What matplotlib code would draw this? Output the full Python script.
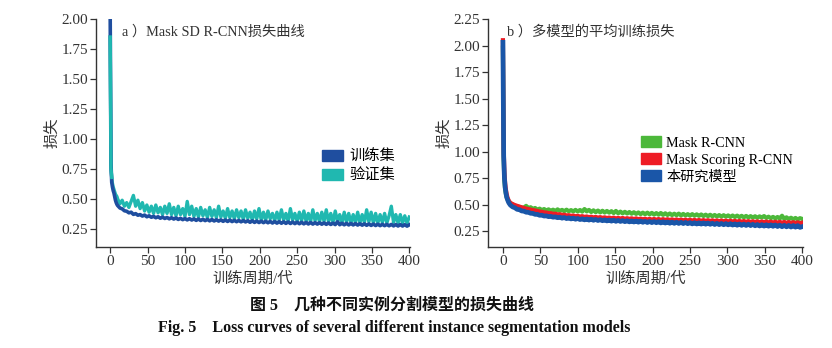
import numpy as np
import matplotlib.pyplot as plt
from matplotlib.patches import Patch

plt.rcParams['font.family'] = ['Liberation Serif', 'Noto Sans CJK SC']
plt.rcParams['axes.unicode_minus'] = False

# epochs: every epoch for the first 10, then every 3rd
epochs = np.r_[0:10, 10:401:3]

# a) Mask SD R-CNN
train_a = [2.00, 0.80, 0.64, 0.60, 0.57, 0.55, 0.52, 0.49, 0.47, 0.455,
           0.445, 0.425, 0.418, 0.402, 0.398, 0.385, 0.390, 0.372, 0.378, 0.365,
           0.370, 0.358, 0.366, 0.352, 0.360, 0.348, 0.355, 0.344, 0.352, 0.340,
           0.349, 0.338, 0.346, 0.335, 0.344, 0.333, 0.342, 0.330, 0.339, 0.328,
           0.337, 0.326, 0.336, 0.325, 0.334, 0.322, 0.333, 0.321, 0.331, 0.320,
           0.330, 0.318, 0.329, 0.317, 0.327, 0.316, 0.326, 0.314, 0.325, 0.313,
           0.324, 0.312, 0.322, 0.311, 0.321, 0.310, 0.320, 0.309, 0.319, 0.306,
           0.318, 0.305, 0.316, 0.304, 0.315, 0.303, 0.314, 0.302, 0.313, 0.300,
           0.312, 0.299, 0.311, 0.298, 0.310, 0.297, 0.309, 0.296, 0.308, 0.295,
           0.307, 0.294, 0.306, 0.293, 0.305, 0.292, 0.304, 0.291, 0.303, 0.291,
           0.302, 0.290, 0.301, 0.289, 0.300, 0.288, 0.299, 0.287, 0.310, 0.286,
           0.298, 0.285, 0.297, 0.284, 0.296, 0.284, 0.295, 0.283, 0.294, 0.282,
           0.293, 0.281, 0.292, 0.280, 0.291, 0.279, 0.290, 0.278, 0.289, 0.278,
           0.288, 0.277, 0.288, 0.276, 0.287, 0.275, 0.287, 0.275, 0.286, 0.274,
           0.285]
val_a = [1.85, 0.76, 0.68, 0.63, 0.60, 0.58, 0.56, 0.54, 0.53, 0.52,
         0.50, 0.46, 0.49, 0.44, 0.47, 0.43, 0.48, 0.53, 0.44, 0.49,
         0.42, 0.47, 0.40, 0.45, 0.39, 0.44, 0.38, 0.45, 0.385, 0.43,
         0.37, 0.44, 0.38, 0.46, 0.37, 0.43, 0.36, 0.44, 0.37, 0.42,
         0.355, 0.48, 0.37, 0.44, 0.355, 0.42, 0.35, 0.43, 0.36, 0.41,
         0.345, 0.43, 0.355, 0.41, 0.345, 0.44, 0.35, 0.40, 0.34, 0.42,
         0.345, 0.40, 0.335, 0.41, 0.345, 0.40, 0.33, 0.41, 0.34, 0.39,
         0.325, 0.40, 0.335, 0.42, 0.325, 0.39, 0.325, 0.40, 0.335, 0.38,
         0.32, 0.39, 0.325, 0.41, 0.325, 0.38, 0.315, 0.42, 0.325, 0.38,
         0.315, 0.39, 0.32, 0.40, 0.315, 0.38, 0.31, 0.41, 0.32, 0.38,
         0.31, 0.39, 0.315, 0.41, 0.31, 0.38, 0.305, 0.40, 0.315, 0.37,
         0.30, 0.39, 0.31, 0.38, 0.30, 0.37, 0.305, 0.39, 0.30, 0.37,
         0.305, 0.41, 0.31, 0.39, 0.30, 0.38, 0.30, 0.37, 0.305, 0.38,
         0.30, 0.36, 0.44, 0.305, 0.37, 0.30, 0.37, 0.30, 0.36, 0.30,
         0.35]

# b) average training loss of several models
mask_rcnn = [1.98, 0.92, 0.72, 0.64, 0.60, 0.57, 0.55, 0.54, 0.53, 0.52,
             0.515, 0.500, 0.492, 0.480, 0.478, 0.470, 0.472, 0.488, 0.466, 0.475,
             0.460, 0.468, 0.452, 0.462, 0.448, 0.458, 0.445, 0.455, 0.442, 0.452,
             0.440, 0.455, 0.441, 0.450, 0.438, 0.452, 0.437, 0.448, 0.436, 0.450,
             0.435, 0.449, 0.434, 0.458, 0.436, 0.450, 0.430, 0.446, 0.428, 0.444,
             0.426, 0.442, 0.425, 0.440, 0.424, 0.438, 0.420, 0.440, 0.418, 0.434,
             0.417, 0.432, 0.416, 0.430, 0.414, 0.428, 0.412, 0.426, 0.410, 0.424,
             0.409, 0.424, 0.408, 0.422, 0.406, 0.420, 0.405, 0.421, 0.403, 0.418,
             0.402, 0.416, 0.401, 0.414, 0.400, 0.415, 0.398, 0.412, 0.397, 0.410,
             0.396, 0.410, 0.395, 0.408, 0.394, 0.407, 0.392, 0.405, 0.391, 0.404,
             0.390, 0.402, 0.388, 0.401, 0.387, 0.400, 0.386, 0.398, 0.384, 0.397,
             0.383, 0.396, 0.382, 0.394, 0.380, 0.393, 0.379, 0.391, 0.378, 0.390,
             0.376, 0.389, 0.378, 0.392, 0.374, 0.386, 0.372, 0.384, 0.370, 0.383,
             0.368, 0.395, 0.366, 0.380, 0.364, 0.376, 0.362, 0.374, 0.360, 0.372,
             0.365]
ms_rcnn = [2.05, 1.02, 0.80, 0.70, 0.64, 0.60, 0.57, 0.55, 0.535, 0.525,
           0.515, 0.505, 0.495, 0.488, 0.480, 0.474, 0.468, 0.462, 0.458, 0.452,
           0.448, 0.443, 0.440, 0.434, 0.432, 0.426, 0.425, 0.419, 0.419, 0.413,
           0.414, 0.408, 0.409, 0.403, 0.404, 0.398, 0.400, 0.394, 0.397, 0.390,
           0.394, 0.387, 0.391, 0.384, 0.388, 0.381, 0.386, 0.379, 0.384, 0.377,
           0.382, 0.375, 0.380, 0.373, 0.378, 0.371, 0.377, 0.369, 0.375, 0.368,
           0.374, 0.366, 0.372, 0.365, 0.371, 0.363, 0.370, 0.362, 0.368, 0.361,
           0.367, 0.359, 0.366, 0.358, 0.365, 0.357, 0.364, 0.356, 0.363, 0.355,
           0.362, 0.354, 0.361, 0.353, 0.360, 0.352, 0.359, 0.351, 0.358, 0.350,
           0.357, 0.349, 0.356, 0.348, 0.355, 0.347, 0.354, 0.346, 0.353, 0.345,
           0.352, 0.344, 0.351, 0.343, 0.350, 0.342, 0.349, 0.341, 0.348, 0.340,
           0.347, 0.339, 0.346, 0.338, 0.345, 0.337, 0.344, 0.336, 0.343, 0.335,
           0.342, 0.334, 0.341, 0.333, 0.340, 0.332, 0.339, 0.331, 0.338, 0.330,
           0.337, 0.329, 0.336, 0.328, 0.335, 0.327, 0.334, 0.326, 0.333, 0.325,
           0.330]
ours = [2.03, 0.96, 0.75, 0.66, 0.61, 0.57, 0.55, 0.53, 0.515, 0.505,
        0.495, 0.478, 0.470, 0.455, 0.452, 0.440, 0.438, 0.428, 0.427, 0.418,
        0.417, 0.408, 0.408, 0.399, 0.400, 0.392, 0.394, 0.386, 0.389, 0.381,
        0.385, 0.376, 0.381, 0.372, 0.378, 0.368, 0.375, 0.365, 0.372, 0.362,
        0.369, 0.359, 0.366, 0.356, 0.364, 0.354, 0.362, 0.352, 0.360, 0.350,
        0.358, 0.348, 0.356, 0.346, 0.354, 0.344, 0.353, 0.342, 0.351, 0.341,
        0.349, 0.339, 0.348, 0.337, 0.346, 0.336, 0.345, 0.334, 0.344, 0.333,
        0.342, 0.331, 0.341, 0.330, 0.340, 0.329, 0.339, 0.327, 0.338, 0.326,
        0.336, 0.324, 0.335, 0.323, 0.334, 0.322, 0.333, 0.321, 0.332, 0.320,
        0.330, 0.318, 0.329, 0.317, 0.328, 0.316, 0.327, 0.315, 0.326, 0.314,
        0.324, 0.312, 0.323, 0.311, 0.322, 0.310, 0.321, 0.309, 0.320, 0.307,
        0.318, 0.305, 0.317, 0.304, 0.316, 0.303, 0.315, 0.302, 0.314, 0.300,
        0.312, 0.298, 0.311, 0.297, 0.310, 0.296, 0.309, 0.295, 0.308, 0.293,
        0.306, 0.291, 0.305, 0.290, 0.304, 0.288, 0.303, 0.287, 0.302, 0.285,
        0.292]

xticks = [0, 50, 100, 150, 200, 250, 300, 350, 400]

c_train, c_val = '#1f4e9f', '#20b8b0'
c_green, c_red, c_blue = '#4cb83a', '#ee1c25', '#1a56a8'
grey = '#333333'

fig = plt.figure(figsize=(8.32, 3.48), dpi=100)
ax1 = fig.add_axes([0.1154, 0.2902, 0.3774, 0.6552])
ax2 = fig.add_axes([0.5865, 0.2902, 0.3786, 0.6552])

# validation first so the training curve sits on top of it,
# but the initial drop of the validation curve shows in front
ax1.plot(epochs, val_a, color=c_val, lw=2.4)
ax1.plot(epochs, train_a, color=c_train, lw=2.6)
ax1.plot(epochs[:3], val_a[:3], color=c_val, lw=2.4)
ax1.set_ylim(0.10, 2.00)
ax1.set_yticks([0.25, 0.50, 0.75, 1.00, 1.25, 1.50, 1.75, 2.00])
ax1.set_xlim(-19, 401)
ax1.text(0.082, 0.975, 'a ）Mask SD R-CNN损失曲线', transform=ax1.transAxes,
         fontsize=10.3, color=grey, va='top')
ax1.legend(handles=[Patch(color=c_train, label='训练集'), Patch(color=c_val, label='验证集')],
           loc='upper left', bbox_to_anchor=(0.72, 0.425), frameon=False, fontsize=11,
           handlelength=1.4, handleheight=0.75, labelspacing=0.3, handletextpad=0.4,
           borderaxespad=0, borderpad=0)

ax2.plot(epochs, mask_rcnn, color=c_green, lw=3.0)
ax2.plot(epochs, ms_rcnn, color=c_red, lw=3.0)
ax2.plot(epochs, ours, color=c_blue, lw=3.4)
ax2.set_ylim(0.10, 2.25)
ax2.set_yticks([0.25, 0.50, 0.75, 1.00, 1.25, 1.50, 1.75, 2.00, 2.25])
ax2.set_xlim(-20, 401)
ax2.text(0.06, 0.975, 'b ）多模型的平均训练损失', transform=ax2.transAxes,
         fontsize=10.3, color=grey, va='top')
ax2.legend(handles=[Patch(color=c_green, label='Mask R-CNN'),
                    Patch(color=c_red, label='Mask Scoring R-CNN'),
                    Patch(color=c_blue, label='本研究模型')],
           loc='upper left', bbox_to_anchor=(0.485, 0.485), frameon=False, fontsize=10.2,
           handlelength=1.4, handleheight=0.8, labelspacing=0.25, handletextpad=0.4,
           borderaxespad=0, borderpad=0)

for ax in (ax1, ax2):
    ax.set_xticks(xticks)
    ax.spines['top'].set_visible(False)
    ax.spines['right'].set_visible(False)
    for s in ('left', 'bottom'):
        ax.spines[s].set_color(grey)
        ax.spines[s].set_linewidth(1.0)
    ax.tick_params(direction='out', length=4, width=0.9, colors=grey, labelsize=11, pad=1.5)
    ax.yaxis.set_major_formatter(plt.FormatStrFormatter('%.2f'))
    ax.set_xlabel('训练周期/代', fontsize=11, color=grey, labelpad=3)
    ax.set_ylabel('损失', fontsize=11, color=grey, labelpad=2)

fig.text(0.471, 0.123, '图 5　几种不同实例分割模型的损失曲线', ha='center', va='center',
         fontsize=11.5, fontweight='bold', color='#111111')
fig.text(0.4736, 0.058, 'Fig. 5    Loss curves of several different instance segmentation models',
         ha='center', va='center', fontsize=11.5, fontweight='bold', color='#111111')

fig.savefig('out.png', dpi=100)
